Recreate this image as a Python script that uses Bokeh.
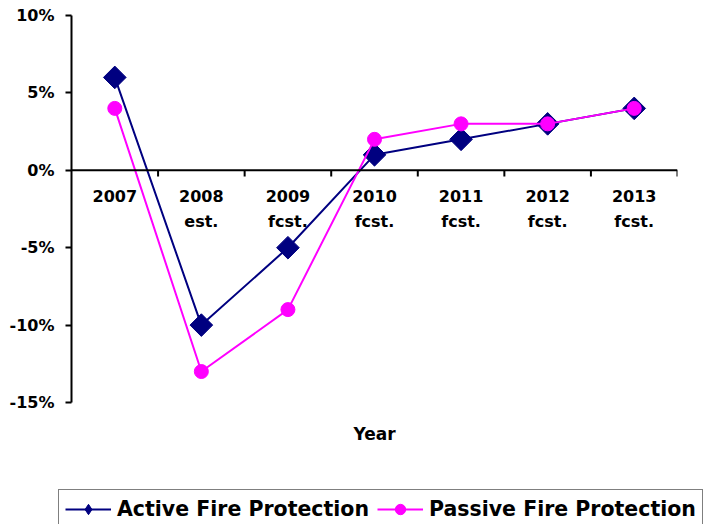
from bokeh.plotting import figure
from bokeh.models import (Range1d, FixedTicker, Span, Legend, LegendItem, Label,
                          ColumnDataSource)
from bokeh.layouts import column
from bokeh.core.properties import value
from bokeh.embed import file_html
from bokeh.resources import INLINE
import math

years = ["2007", "2008", "2009", "2010", "2011", "2012", "2013"]
year_labels = ["2007\n", "2008\nest.", "2009\nfcst.", "2010\nfcst.", "2011\nfcst.",
               "2012\nfcst.", "2013\nfcst."]
active = [6, -10, -5, 1, 2, 3, 4]
passive = [4, -13, -9, 2, 3, 3, 4]
y_ticks = [-15, -10, -5, 0, 5, 10]
y_tick_labels = ["-15%", "-10%", "-5%", "0%", "5%", "10%"]
series_names = ["Active Fire Protection", "Passive Fire Protection"]

FONT = "DejaVu Sans"
NAVY = "#000080"
MAGENTA = "#FF00FF"

W = 704
H_MAIN, H_LEG = 489, 35
LEFT, TOP, RIGHT = 71, 15, 27
AXIS_BOTTOM = 402  # pixel row where the -15% end of the axis sits
y_min, y_max = min(y_ticks), max(y_ticks)
px_per_unit = (AXIS_BOTTOM - TOP) / (y_max - y_min)
y_start = y_min - (H_MAIN - AXIS_BOTTOM) / px_per_unit

p = figure(x_range=years, y_range=Range1d(y_start, y_max), width=W, height=H_MAIN,
           output_backend="svg", toolbar_location=None, x_axis_location=None,
           min_border_left=LEFT, min_border_right=RIGHT, min_border_top=TOP,
           min_border_bottom=0)
p.frame_align = False
p.outline_line_color = None
p.grid.visible = False
p.background_fill_color = "white"
p.border_fill_color = "white"

# y axis
ax = p.yaxis[0]
ax.bounds = (y_min, y_max)
ax.ticker = FixedTicker(ticks=y_ticks)
ax.major_label_overrides = {t: l for t, l in zip(y_ticks, y_tick_labels)}
ax.minor_tick_line_color = None
ax.major_tick_in = 0
ax.major_tick_out = 6
ax.major_tick_line_width = 2
ax.axis_line_width = 2
ax.axis_line_color = "black"
ax.major_tick_line_color = "black"
ax.major_label_standoff = 11
ax.major_label_text_font = FONT
ax.major_label_text_font_style = "bold"
ax.major_label_text_font_size = "16px"
ax.major_label_text_color = "black"

# horizontal category axis at zero
p.add_layout(Span(location=0, dimension="width", line_color="black", line_width=2))
n = len(years)
bounds = list(range(1, n + 1))
p.segment(x0=bounds, y0=[0] * n, x1=bounds, y1=[-0.4] * n,
          line_color="black", line_width=2)
p.text(x=years, y=[0] * n, text=year_labels, text_align="center",
       text_baseline="top", y_offset=17, text_font=value(FONT),
       text_font_style="bold", text_font_size="16px", text_color="black",
       text_line_height=1.3)

# series
src = ColumnDataSource(dict(year=years, active=active, passive=passive))
p.line("year", "active", source=src, line_color=NAVY, line_width=2)
p.scatter("year", "active", source=src, marker="square", angle=math.pi / 4,
          size=16, fill_color=NAVY, line_color=NAVY)
p.line("year", "passive", source=src, line_color=MAGENTA, line_width=2)
p.scatter("year", "passive", source=src, marker="circle", size=14,
          fill_color=MAGENTA, line_color=MAGENTA)

# axis title
p.add_layout(Label(x=(W - LEFT - RIGHT) / 2, y=H_MAIN - 433, x_units="screen",
                   y_units="screen", text="Year", text_align="center",
                   text_baseline="middle", text_font=FONT, text_font_style="bold",
                   text_font_size="17px", text_color="black"))

# legend strip (separate canvas so the legend can extend past the plot frame)
lf = figure(width=W, height=H_LEG, x_range=Range1d(0, 1), y_range=Range1d(0, 1),
            output_backend="svg", toolbar_location=None, x_axis_location=None,
            y_axis_location=None, min_border=0)
lf.frame_align = False
lf.outline_line_color = None
lf.grid.visible = False
proxy = ColumnDataSource(dict(x=[0.5], y=[-5]))  # off-canvas legend proxies
ll1 = lf.line("x", "y", source=proxy, line_color=NAVY, line_width=2)
lm1 = lf.scatter("x", "y", source=proxy, marker="diamond", size=16,
                 fill_color=NAVY, line_color=NAVY)
ll2 = lf.line("x", "y", source=proxy, line_color=MAGENTA, line_width=2)
lm2 = lf.scatter("x", "y", source=proxy, marker="circle", size=14,
                 fill_color=MAGENTA, line_color=MAGENTA)

legend = Legend(items=[LegendItem(label=series_names[0], renderers=[ll1, lm1]),
                       LegendItem(label=series_names[1], renderers=[ll2, lm2])],
                orientation="horizontal", location=(58, -5),
                label_text_font=FONT, label_text_font_style="bold",
                label_text_font_size="20.5px", label_text_color="black",
                glyph_width=46, glyph_height=26, label_standoff=6, spacing=8,
                padding=6, margin=0, border_line_color="black", border_line_width=1.5,
                background_fill_alpha=1)
lf.add_layout(legend)

open("out.html", "w").write(file_html(column(p, lf, spacing=0), INLINE))
